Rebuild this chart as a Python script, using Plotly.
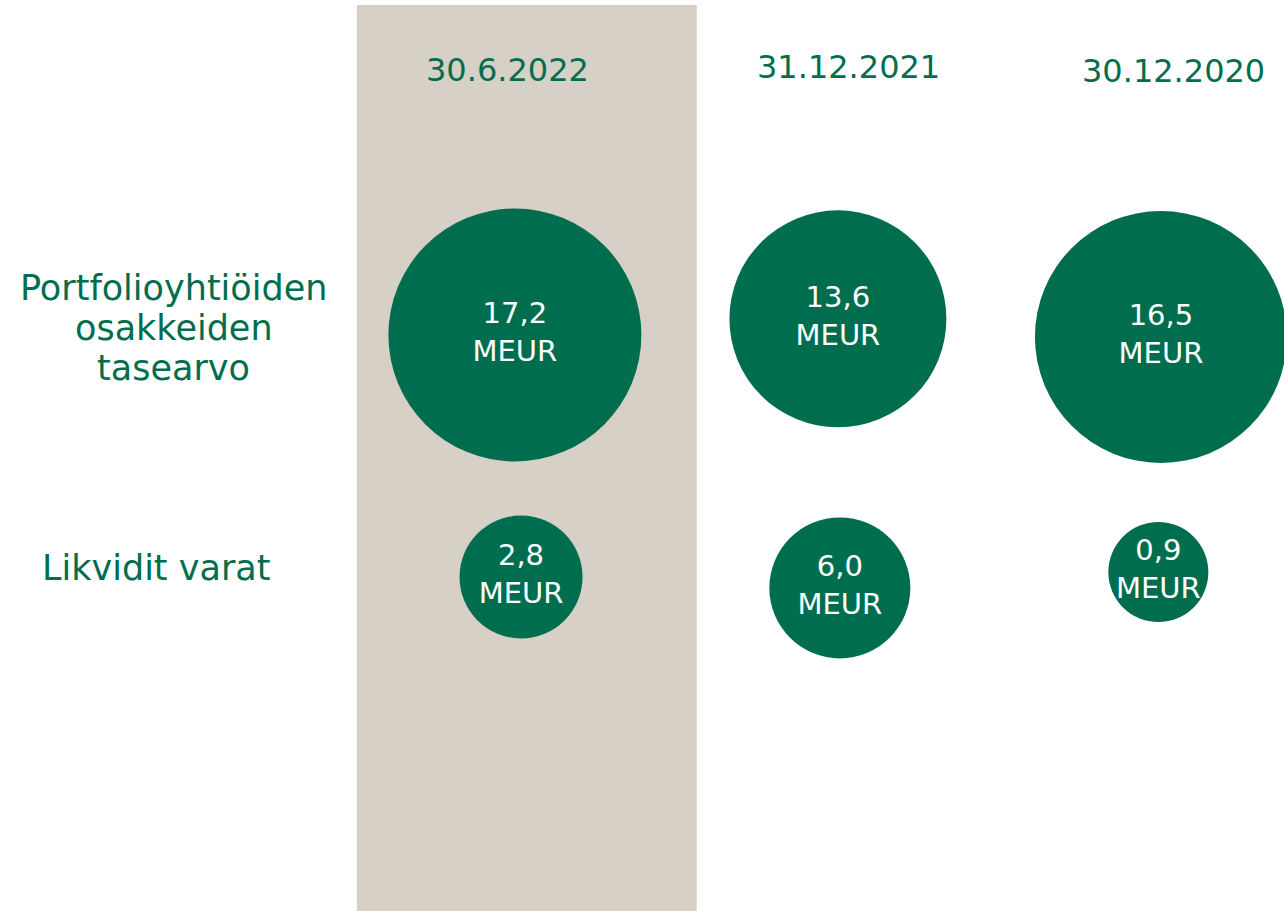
import plotly.graph_objects as go

# ---- data ----
periods = ["30.6.2022", "31.12.2021", "30.12.2020"]
row_labels = [["Portfolioyhtiöiden", "osakkeiden", "tasearvo"], ["Likvidit varat"]]
portfolio_values = [17.2, 13.6, 16.5]
liquid_values = [2.8, 6.0, 0.9]
unit = "MEUR"

# ---- style / layout ----
GREEN = "#006E4E"
BEIGE = "#D7D0C6"
FONT = "DejaVu Sans, sans-serif"
portfolio_diam = [253, 217, 252]
liquid_diam = [123, 141, 100]
portfolio_dx = [0.0, 0.0, 0.0]
portfolio_dy = [0.02, -0.045, 0.028]
liquid_dx = [0.019, 0.006, -0.008]
liquid_dy = [-0.004, 0.04, -0.024]
header_dx = [-0.022, 0.034, 0.04]
header_dy = [0.0, -0.012, 0.004]
header_y = -1.05
label_x = [-1.056, -1.111]
label_y = [-0.008, 0.96]
label_line_step = 40 / 248


def fmt(v):
    return f"{v:.1f}".replace(".", ",") + "<br>" + unit


fig = go.Figure()

rows = [
    (portfolio_values, portfolio_diam, portfolio_dx, portfolio_dy, 0),
    (liquid_values, liquid_diam, liquid_dx, liquid_dy, 1),
]
for vals, diam, dx, dy, r in rows:
    fig.add_trace(go.Scatter(
        x=[i + dx[i] for i in range(len(vals))],
        y=[r + dy[i] for i in range(len(vals))],
        mode="markers+text",
        marker=dict(size=diam, color=GREEN, line=dict(width=0), opacity=1),
        text=[fmt(v) for v in vals],
        textposition="middle center",
        textfont=dict(family=FONT, size=29, color="white"),
        hoverinfo="skip",
        showlegend=False,
    ))

# highlighted column background
fig.add_shape(type="rect", xref="x", yref="paper", x0=-0.489, x1=0.563,
              y0=0, y1=1 - 5 / 911, fillcolor=BEIGE, line=dict(width=0),
              layer="below")

# column headers
for i, p in enumerate(periods):
    fig.add_annotation(x=i + header_dx[i], y=header_y + header_dy[i],
                       xref="x", yref="y", text=p, showarrow=False,
                       font=dict(family=FONT, size=32, color=GREEN))

# row labels (one annotation per line for tight line spacing)
for r, lines in enumerate(row_labels):
    n = len(lines)
    for k, line in enumerate(lines):
        fig.add_annotation(x=label_x[r],
                           y=label_y[r] + (k - (n - 1) / 2) * label_line_step,
                           xref="x", yref="y", text=line,
                           showarrow=False, align="center",
                           font=dict(family=FONT, size=35, color=GREEN))

fig.update_layout(
    width=1284, height=911,
    margin=dict(l=0, r=0, t=0, b=0),
    paper_bgcolor="white", plot_bgcolor="white",
    xaxis=dict(range=[-1.594, 2.381], visible=False, fixedrange=True),
    yaxis=dict(range=[2.343, -1.331], visible=False, fixedrange=True),
)

fig.write_html("out.html", config={"displayModeBar": False},
               post_script="document.body.style.margin='0';"
                           "document.body.style.overflow='hidden';")
